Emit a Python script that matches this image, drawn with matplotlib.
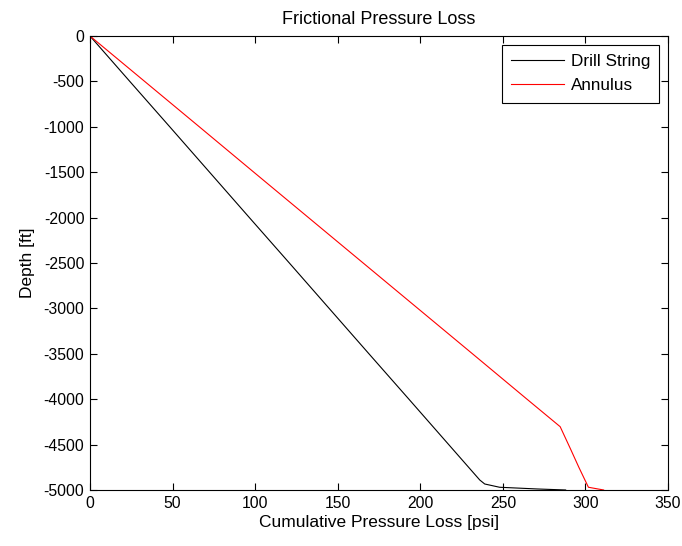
import matplotlib
matplotlib.use("Agg")
import matplotlib.pyplot as plt

plt.rcParams["font.family"] = ["Liberation Sans", "DejaVu Sans"]
plt.rcParams["font.size"] = 11.3
plt.rcParams["axes.unicode_minus"] = False

# drill string pressure loss vs depth
ds_loss = [0, 24.1, 48.3, 72.4, 96.5, 120.7, 144.8, 168.9, 193.1, 217.2, 236, 239, 248, 271, 288]
ds_depth = [0, -500, -1000, -1500, -2000, -2500, -3000, -3500, -4000, -4500, -4890, -4934, -4970, -4989, -5000]

# annulus pressure loss vs depth
an_loss = [0, 33.1, 66.2, 99.2, 132.3, 165.4, 198.5, 231.6, 264.6, 284.7, 291, 296, 301.8, 311]
an_depth = [0, -500, -1000, -1500, -2000, -2500, -3000, -3500, -4000, -4303, -4550, -4750, -4970, -5000]

fig = plt.figure(figsize=(6.82, 5.46), dpi=100)
ax = fig.add_axes([0.132, 0.1026, 0.8475, 0.8314])

ax.plot(ds_loss, ds_depth, color="black", lw=0.8, label="Drill String")
ax.plot(an_loss, an_depth, color="red", lw=0.8, label="Annulus")

ax.set_xlim(0, 350)
ax.set_ylim(-5000, 0)
ax.set_xticks(range(0, 351, 50))
ax.set_yticks(range(-5000, 1, 500))
ax.tick_params(direction="in", top=True, right=True, length=5, pad=4)
ax.set_xlabel("Cumulative Pressure Loss [psi]", fontsize=12.5, labelpad=3)
ax.set_ylabel("Depth [ft]", fontsize=12.5, labelpad=6)
ax.set_title("Frictional Pressure Loss", fontsize=13, pad=9)

leg = ax.legend(loc="upper right", fancybox=False, framealpha=1, edgecolor="black",
                borderaxespad=0.5, handlelength=3.1, handletextpad=0.4, fontsize=12.3,
                borderpad=0.55, labelspacing=0.55)
leg.get_frame().set_linewidth(0.8)

fig.savefig("out.png", dpi=100)
